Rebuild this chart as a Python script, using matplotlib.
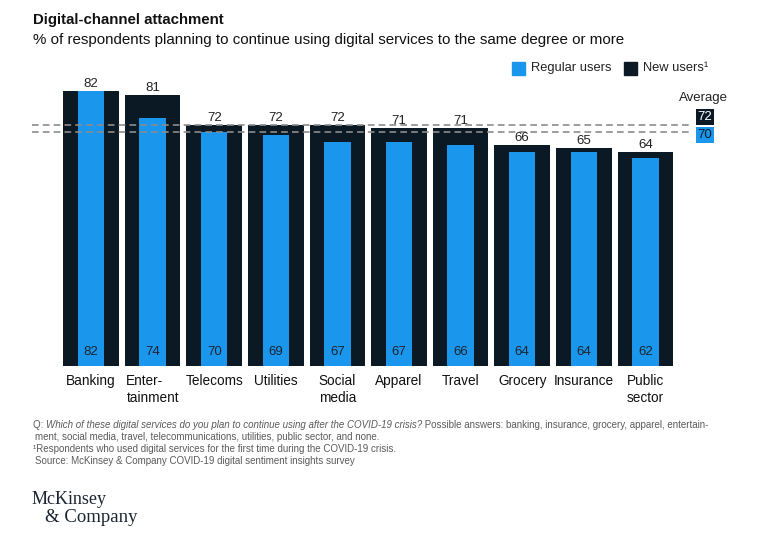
import matplotlib.pyplot as plt
import numpy as np

CATEGORIES = ['Banking', 'Enter-\ntainment', 'Telecoms', 'Utilities', 'Social\nmedia',
              'Apparel', 'Travel', 'Grocery', 'Insurance', 'Public\nsector']
NEW_USERS = [82, 81, 72, 72, 72, 71, 71, 66, 65, 64]
REGULAR_USERS = [82, 74, 70, 69, 67, 67, 66, 64, 64, 62]
AVG_NEW = 72
AVG_REGULAR = 70

BLUE = '#1A96EC'
DARK = '#0B1924'
GRAY = '#5A5A5A'

plt.rcParams['font.family'] = ['Liberation Sans', 'DejaVu Sans']

W, H = 769, 538
fig = plt.figure(figsize=(W / 100, H / 100), dpi=100)


def fx(px):
    return px / W


def fy(py):
    return 1 - py / H


# axes: pixel x 32..730, y 80..366 (baseline)
ax = fig.add_axes([fx(32), fy(366), fx(730 - 32), fy(80) - fy(366)])
step = 61.6
x0 = 91
ax.set_xlim((32 - x0) / step, (730 - x0) / step)
ax.set_ylim(0, (366 - 80) / 3.35)
ax.axis('off')

x = np.arange(len(CATEGORIES))
ax.bar(x, NEW_USERS, width=0.9, color=DARK, zorder=1)
ax.bar(x, REGULAR_USERS, width=0.43, color=BLUE, zorder=2)

line_end = (690 - x0) / step
for avg in (AVG_NEW, AVG_REGULAR):
    ax.plot([ax.get_xlim()[0], line_end], [avg, avg], color='#8C8C8C', lw=1.2,
            dashes=(4, 2.5), zorder=3)

for xi, label, n, r in zip(x, CATEGORIES, NEW_USERS, REGULAR_USERS):
    ax.text(xi, n + 0.3, str(n), ha='center', va='bottom', fontsize=9.5, color='#222222')
    ax.text(xi, 2.5, str(r), ha='center', va='bottom', fontsize=9.5, color='#1B2430', zorder=4)
    ax.text(xi, -2.5, label, ha='center', va='top', fontsize=9.8,
            color='#111111', multialignment='left', linespacing=1.25)

# average labels
fig.text(fx(703), fy(98), 'Average', ha='center', va='center', fontsize=9.5, color='#222222')
fig.text(fx(705), fy(117), str(AVG_NEW), ha='center', va='center', fontsize=9.5, color='white',
         bbox=dict(boxstyle='square,pad=0.15', fc=DARK, ec='none'))
fig.text(fx(705), fy(135), str(AVG_REGULAR), ha='center', va='center', fontsize=9.5, color=DARK,
         bbox=dict(boxstyle='square,pad=0.15', fc=BLUE, ec='none'))

# titles
fig.text(fx(33), fy(20), 'Digital-channel attachment', ha='left', va='center',
         fontsize=10.8, fontweight='bold', color='#111111')
fig.text(fx(33), fy(40), '% of respondents planning to continue using digital services to the same degree or more',
         ha='left', va='center', fontsize=10.9, color='#111111')

# legend
fig.patches.append(plt.Rectangle((fx(512), fy(75)), fx(13), fy(62) - fy(75), color=BLUE,
                                 transform=fig.transFigure, figure=fig))
fig.text(fx(531), fy(68), 'Regular users', ha='left', va='center', fontsize=9.3, color='#222222')
fig.patches.append(plt.Rectangle((fx(624), fy(75)), fx(13), fy(62) - fy(75), color=DARK,
                                 transform=fig.transFigure, figure=fig))
fig.text(fx(643), fy(68), 'New users\u00b9', ha='left', va='center', fontsize=9.3, color='#222222')

# footnotes
fs = 7
renderer = fig.canvas.get_renderer()
parts = [('Q: ', 'normal'),
         ('Which of these digital services do you plan to continue using after the COVID-19 crisis?', 'italic'),
         (' Possible answers: banking, insurance, grocery, apparel, entertain-', 'normal')]
cur = fx(33)
for txt, st in parts:
    t = fig.text(cur, fy(425), txt, ha='left', va='center', fontsize=fs, color=GRAY, style=st)
    bb = t.get_window_extent(renderer=renderer)
    cur = bb.x1 / W
fig.text(fx(35), fy(437), 'ment, social media, travel, telecommunications, utilities, public sector, and none.',
         ha='left', va='center', fontsize=fs, color=GRAY)
fig.text(fx(33), fy(449), '\u00b9Respondents who used digital services for the first time during the COVID-19 crisis.',
         ha='left', va='center', fontsize=fs, color=GRAY)
fig.text(fx(35), fy(461), 'Source: McKinsey & Company COVID-19 digital sentiment insights survey',
         ha='left', va='center', fontsize=fs, color=GRAY)

# logo
fig.text(fx(32), fy(500), 'McKinsey', ha='left', va='center', fontsize=13,
         family=['Liberation Serif', 'DejaVu Serif'], color='#1B2430')
fig.text(fx(45), fy(518), '& Company', ha='left', va='center', fontsize=13.5,
         family=['Liberation Serif', 'DejaVu Serif'], color='#1B2430')

fig.savefig('out.png', dpi=100, facecolor='white')
